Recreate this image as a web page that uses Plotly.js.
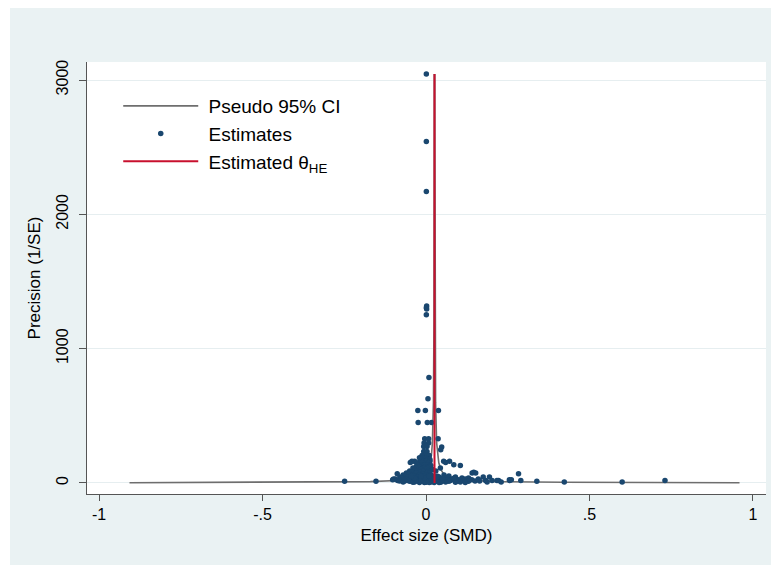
<!DOCTYPE html>
<html>
<head>
<meta charset="utf-8">
<script src="https://cdn.plot.ly/plotly-3.0.1.min.js"></script>
<style>
  html, body { margin: 0; padding: 0; background: #ffffff; }
  #chart { position: absolute; left: 10px; top: 8px; width: 761px; height: 557px; }
</style>
</head>
<body>
<div id="chart"></div>
<script>
// Study estimates: effect size (SMD) and precision (1/SE)
const effectSize = [
  0.001, 0.001, 0.001, 0.002, 0.001, 0.002, 0.001, 0.009, 0.006,
  -0.025, -0.002, 0.038,
  -0.024, 0.004, 0.017,
  -0.004, 0.008, 0.037,
  -0.006, 0.008,
  -0.007, 0.003, 0.048,
  0.045,
  -0.007, 0.003,
  -0.012, -0.004, 0.004, 0.010,
  -0.020, -0.010, 0.002,
  -0.015, 0.005, 0.012,
  -0.043, -0.035, -0.018, -0.008, 0.000, 0.012, 0.054, 0.072,
  -0.048, -0.030, -0.012, 0.008, 0.060,
  -0.014, -0.005, 0.006, 0.085,
  0.105, -0.025, 0.015,
  -0.030, -0.020, -0.002, 0.010,
  0.044, -0.008, 0.003, -0.040,
  -0.035, -0.015, 0.000, 0.020,
  -0.050, -0.028, -0.010, 0.008, 0.030,
  -0.045, -0.020, 0.005, 0.146,
  0.141, 0.152, -0.060, -0.030, 0.012,
  -0.088, -0.050, -0.010, 0.283,
  -0.070, -0.040, -0.020, 0.000, 0.015, 0.055,
  -0.065, -0.035, -0.005, 0.025, 0.070,
  0.175, 0.194, -0.080, -0.055, -0.025, 0.005, 0.040, 0.090,
  -0.075, -0.045, -0.015, 0.030, 0.060, 0.110, 0.130,
  -0.099, -0.094, -0.060, -0.030, -0.010, 0.045, 0.080, 0.120, 0.160,
  0.255, 0.261, -0.102, -0.070, -0.040, 0.010, 0.065, 0.100, 0.140,
  0.290, 0.217, 0.222, 0.202, 0.182, -0.087, -0.055, -0.020, 0.035, 0.075, 0.115,
  -0.081, -0.065, -0.045, -0.025, 0.000, 0.050, 0.095, 0.150, 0.164,
  -0.249, -0.153, 0.339, -0.050, -0.010, 0.030, 0.070, 0.130,
  0.600, 0.423, -0.070, -0.035, 0.015, 0.060, 0.105, 0.187, 0.230,
  0.731, 0.256,
  -0.040, 0.000, 0.045, 0.090,
  -0.020, -0.005, 0.010, 0.025, 0.040, 0.120,
  -0.030, -0.015, 0.005, 0.020, 0.050,
  -0.035, -0.005, 0.015, 0.050, 0.085,
  -0.045, -0.015, 0.010, 0.035
];
const precision = [
  3045, 2542, 2170, 1318, 1305, 1295, 1252, 786, 627,
  540, 540, 540,
  451, 451, 451,
  330, 330, 330,
  298, 298,
  272, 272, 268,
  248,
  235, 235,
  205, 205, 205, 205,
  188, 188, 188,
  175, 175, 175,
  161, 161, 161, 161, 161, 161, 161, 161,
  152, 152, 152, 152, 152,
  136, 136, 136, 136,
  130, 130, 130,
  120, 120, 120, 120,
  111, 111, 111, 111,
  100, 100, 100, 100,
  90, 90, 90, 90, 90,
  79, 79, 79, 79,
  74, 74, 74, 74, 74,
  68, 68, 68, 68,
  60, 60, 60, 60, 60, 60,
  52, 52, 52, 52, 52,
  45, 45, 45, 45, 45, 45, 45, 45,
  38, 38, 38, 38, 38, 38, 38,
  30, 30, 30, 30, 30, 30, 30, 30, 30,
  25, 25, 25, 25, 25, 25, 25, 25, 25,
  19, 19, 19, 19, 19, 19, 19, 19, 19, 19, 19,
  15, 15, 15, 15, 15, 15, 15, 15, 15,
  12, 12, 12, 12, 12, 12, 12, 12,
  8, 8, 8, 8, 8, 8, 8, 8, 8,
  18, 18,
  5, 5, 5, 5,
  3, 3, 3, 3, 3, 3,
  22, 22, 22, 22, 22,
  35, 35, 35, 35, 35,
  50, 50, 50, 50
];

// Pseudo 95% CI funnel
const ciPrecision = [2.1, 3, 5, 10, 20, 40, 60, 80, 100, 150, 220, 300, 600, 1200, 3045];
const ciLower = [-0.907, -0.627, -0.366, -0.170, -0.072, -0.023, -0.0067, 0.0015, 0.0064, 0.0129, 0.0171, 0.0195, 0.0227, 0.0244, 0.0254];
const ciUpper = [0.959, 0.679, 0.418, 0.222, 0.124, 0.075, 0.0587, 0.0505, 0.0456, 0.0391, 0.0349, 0.0325, 0.0293, 0.0276, 0.0266];

// Estimated theta (HE)
const thetaX = [0.026, 0.026];
const thetaY = [0, 3045];

const xTickVals = [-1, -0.5, 0, 0.5, 1];
const xTickText = ['-1', '-.5', '0', '.5', '1'];
const yTickVals = [0, 1000, 2000, 3000];
const yTickText = ['0', '1000', '2000', '3000'];

const ciX = ciLower.concat([null], ciUpper.slice().reverse());
const ciY = ciPrecision.concat([null], ciPrecision.slice().reverse());

const gap = '\u00a0';
const traces = [
  {
    x: ciX, y: ciY, type: 'scatter', mode: 'lines',
    name: gap + 'Pseudo 95% CI',
    line: { color: '#6e6e6e', width: 1.6 },
    connectgaps: false
  },
  {
    x: effectSize, y: precision, type: 'scatter', mode: 'markers',
    name: gap + 'Estimates',
    marker: { color: '#1a476f', size: 5.5 }
  },
  {
    x: thetaX, y: thetaY, type: 'scatter', mode: 'lines',
    name: gap + 'Estimated θ<sub>HE</sub>',
    line: { color: '#c8102e', width: 2 }
  }
];

const axisFont = { family: 'Liberation Sans, Arial, sans-serif', size: 16, color: '#000000' };

const layout = {
  width: 761, height: 557,
  margin: { l: 77, r: 5, t: 54, b: 71 },
  paper_bgcolor: '#eaf2f3',
  plot_bgcolor: '#ffffff',
  font: { family: 'Liberation Sans, Arial, sans-serif', color: '#000000' },
  showlegend: true,
  legend: {
    x: 0.046, y: 0.942, xanchor: 'left', yanchor: 'top',
    bgcolor: 'rgba(255,255,255,0)',
    font: { family: 'Liberation Sans, Arial, sans-serif', size: 19, color: '#000000' },
    itemwidth: 75,
    tracegroupgap: 0
  },
  xaxis: {
    range: [-1.037, 1.04],
    tickvals: xTickVals, ticktext: xTickText,
    ticks: 'outside', ticklen: 6, tickcolor: '#555555', tickwidth: 1,
    showline: true, linecolor: '#555555', linewidth: 1,
    showgrid: false, zeroline: false,
    tickfont: axisFont,
    title: { text: 'Effect size (SMD)', font: { family: 'Liberation Sans, Arial, sans-serif', size: 17, color: '#000000' }, standoff: 6 }
  },
  yaxis: {
    range: [-82, 3134],
    tickvals: yTickVals, ticktext: yTickText,
    tickangle: -90,
    ticks: 'outside', ticklen: 7, tickcolor: '#555555', tickwidth: 1,
    ticklabelstandoff: 5,
    showline: true, linecolor: '#555555', linewidth: 1,
    showgrid: true, gridcolor: '#e6eef0', gridwidth: 1,
    zeroline: false,
    tickfont: axisFont,
    title: { text: 'Precision (1/SE)', font: { family: 'Liberation Sans, Arial, sans-serif', size: 17, color: '#000000' }, standoff: 8 }
  }
};

Plotly.newPlot('chart', traces, layout, { displayModeBar: false, staticPlot: true });
</script>
</body>
</html>
